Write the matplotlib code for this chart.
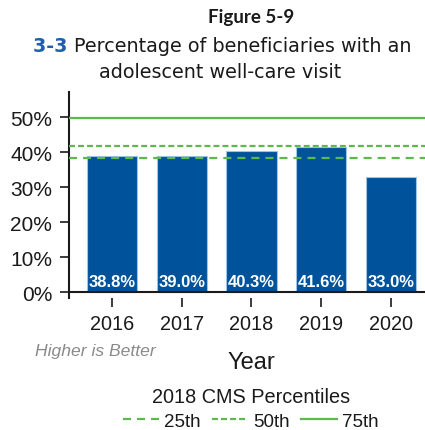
import matplotlib
matplotlib.use("Agg")
import matplotlib.pyplot as plt
from matplotlib.lines import Line2D

plt.rcParams['lines.scale_dashes'] = False

years = ["2016", "2017", "2018", "2019", "2020"]
rates = [38.8, 39.0, 40.3, 41.6, 33.0]
yticks = [0, 10, 20, 30, 40, 50]
pct_labels = ["25th", "50th", "75th"]
pct_values = [38.3, 41.9, 49.7]

BAR = "#00539B"
EDGE = "#9DC3E6"
GREEN = "#5DB94B"
TXT = "#1a1a1a"
dash_styles = [(0, (5.8, 4.3)), (0, (4.3, 2.2)), "-"]

fig = plt.figure(figsize=(4.25, 4.31), dpi=100)
ax = fig.add_axes([0.1624, 0.3056, 0.8376, 0.4786])

x = list(range(len(years)))
ax.bar(x, rates, width=0.72, color=BAR, edgecolor=EDGE, linewidth=0.8, zorder=2)
for xi, v in zip(x, rates):
    ax.text(xi, 3.0, f"{v:.1f}%", ha="center", va="center", color="white",
            fontsize=12, fontweight="bold", family="Liberation Sans", zorder=4)

for val, ls in zip(pct_values, dash_styles):
    ax.axhline(val, color=GREEN, lw=1.6, linestyle=ls, zorder=3)
ax.axhline(0, color=TXT, lw=1.5, zorder=5, clip_on=False)

ax.set_xlim(-0.614, 4.486)
ax.set_ylim(-1.7, 57.2)
ax.set_yticks(yticks)
ax.set_yticklabels([f"{t}%" for t in yticks])
ax.set_xticks(x)
ax.set_xticklabels(years)

for s in ["top", "right", "bottom"]:
    ax.spines[s].set_visible(False)
ax.spines["left"].set_linewidth(1.5)
ax.spines["left"].set_color(TXT)
ax.tick_params(axis="y", length=6.5, width=1.2, pad=5.5, labelsize=15,
               colors=TXT)
ax.tick_params(axis="x", length=6.5, width=1.2, pad=5, labelsize=14.3,
               colors=TXT)
for lab in ax.get_xticklabels() + ax.get_yticklabels():
    lab.set_family("Liberation Sans")

# titles
fig.text(251 / 425, 1 - 17 / 431, "Figure 5-9", ha="center", va="center",
         fontsize=13.5, fontweight="bold", family="Lato", color=TXT)

fig.canvas.draw()
r = fig.canvas.get_renderer()
t1 = fig.text(0, 1 - 47 / 431, "3-3 ", ha="left", va="center", fontsize=13.8,
              fontweight="bold", family="DejaVu Sans", color="#1F5FAD")
t2 = fig.text(0, 1 - 47 / 431, "Percentage of beneficiaries with an",
              ha="left", va="center", fontsize=13.8, family="DejaVu Sans",
              color=TXT)
w1 = t1.get_window_extent(r).width
w2 = t2.get_window_extent(r).width
start = 222.5 - (w1 + w2) / 2
t1.set_x(start / 425)
t2.set_x((start + w1) / 425)
fig.text(220 / 425, 1 - 72 / 431, "adolescent well-care visit", ha="center",
         va="center", fontsize=13.8, family="DejaVu Sans", color=TXT)

fig.text(35 / 425, 1 - 352 / 431, "Higher is Better", ha="left", va="center",
         fontsize=12.6, style="italic", family="Liberation Sans",
         color="#8A8A8A")
fig.text(251 / 425, 1 - 363 / 431, "Year", ha="center", va="center",
         fontsize=17, family="Liberation Sans", color=TXT)

fig.text(251 / 425, 1 - 398 / 431, "2018 CMS Percentiles", ha="center",
         va="center", fontsize=14.3, family="Liberation Sans", color=TXT)
handles = [Line2D([], [], color=GREEN, lw=1.6, linestyle=ls) for ls in dash_styles]
leg = fig.legend(handles, pct_labels, ncol=3,
                 loc="center", bbox_to_anchor=(251 / 425, 1 - 422 / 431),
                 frameon=False, fontsize=13.5,
                 handlelength=1.9, handletextpad=0.3, columnspacing=0.6,
                 borderpad=0.0)
for t in leg.get_texts():
    t.set_family("Liberation Sans")
    t.set_color(TXT)

fig.savefig("out.png", dpi=100)
